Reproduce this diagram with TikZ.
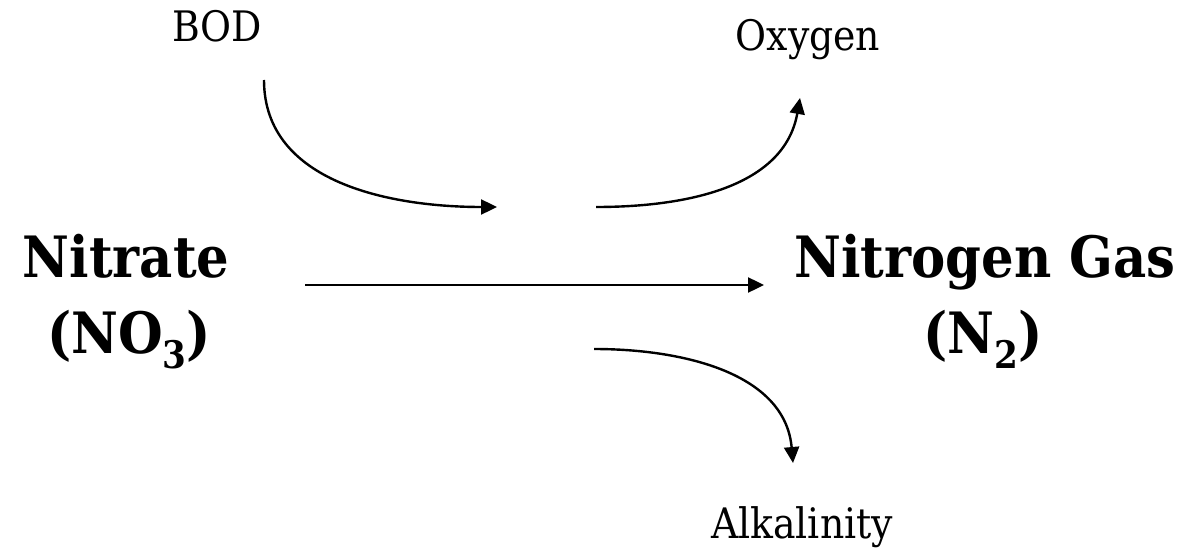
\documentclass[tikz,border=0pt]{standalone}
\usepackage{fontspec}
\setmainfont{DejaVu Serif Condensed}
\usepackage{tikz}
\usetikzlibrary{arrows.meta, positioning}
\tikzstyle{species} = [
  inner sep=0pt, anchor=base, font=\fontsize{28.5}{34}\selectfont\bfseries
]
\tikzstyle{reagent} = [
  inner sep=0pt, anchor=base, font=\fontsize{21}{25}\selectfont
]
\tikzstyle{flow} = [-{Triangle[length=8pt, width=7.5pt]}, line width=1.2pt]
\newcommand{\lowsub}[1]{\raisebox{-0.28em}{\fontsize{19}{22}\selectfont #1}}

\begin{document}
\begin{tikzpicture}[x=0.5pt, y=-0.5pt]

  \useasboundingbox (0,0) rectangle (1187,551);

  % Species
  \node[species] (nitrate) at (126, 277) {Nitrate};
  \node[species] (nitrateformula) at (129, 353) {(NO\lowsub{3})};
  \node[species] (nitrogen) at (985, 277) {Nitrogen Gas};
  \node[species] (nitrogenformula) at (983, 353) {(N\lowsub{2})};

  % Reagents and products
  \node[reagent] (bod) at (217, 42) {BOD};
  \node[reagent] (oxygen) at (808, 51) {Oxygen};
  \node[reagent] (alkalinity) at (802, 538) {Alkalinity};

  % Arrow ends
  \coordinate (bodstart) at (264, 80);
  \coordinate (bodend) at (497, 207);
  \coordinate (oxstart) at (596, 207);
  \coordinate (oxend) at (800, 98);
  \coordinate (mainstart) at (305, 285);
  \coordinate (mainend) at (764, 285);
  \coordinate (alkstart) at (594, 349);
  \coordinate (alkend) at (793, 463);

  % Connections
  \draw[flow] (mainstart) -- (mainend);
  \draw[flow] (bodstart) to[out=-90, in=180] (bodend);
  \draw[flow] (oxstart) to[out=0, in=-100] (oxend);
  \draw[flow] (alkstart) to[out=0, in=95] (alkend);

\end{tikzpicture}
\end{document}
